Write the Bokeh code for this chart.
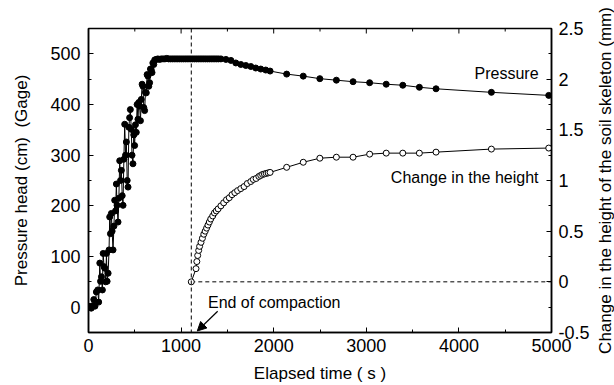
import math
from bokeh.plotting import figure
from bokeh.layouts import row
from bokeh.models import (Range1d, LinearAxis, FixedTicker, Span, Arrow, NormalHead,
                          Label, CustomJSTickFormatter)
from bokeh.embed import file_html
from bokeh.resources import INLINE

# ---------------- data ----------------
pressure_time = [
    0, 15, 30, 45, 57, 70, 85, 100, 110, 122,
    130, 140, 150, 158, 168, 175, 185, 194, 201, 212,
    222, 229, 237, 247, 255, 265, 275, 283, 292, 301,
    308, 319, 328, 337, 346, 355, 364, 373, 382, 391,
    400, 409, 418, 427, 436, 444, 452, 462, 470, 480,
    489, 498, 507, 516, 525, 534, 543, 552, 561, 570,
    579, 588, 597, 606, 615, 624, 633, 642, 651, 660,
    669, 677, 686, 695, 705, 715, 731, 749, 767,
    785, 805, 825, 845, 865, 885, 905, 925, 945, 965,
    985, 1005, 1025, 1045, 1065, 1085, 1105, 1125, 1145, 1165,
    1185, 1205, 1225, 1245, 1265, 1285, 1305, 1325, 1345, 1365,
    1385, 1405,
    1430, 1484, 1538, 1591, 1645, 1699, 1753, 1806, 1860, 1914,
    1961, 2140, 2319, 2498, 2677, 2857, 3036, 3215, 3394, 3573,
    3753, 4351, 4970,
]
pressure_head = [
    2, 0, -2, 3, 15, 2, 30, 34, 10, 87,
    51, 60, 34, 106, 80, 77, 50, 106, 51, 67,
    113, 178, 145, 185, 150, 113, 160, 211, 190, 243,
    201, 168, 215, 289, 250, 270, 220, 201, 292, 361,
    300, 326, 250, 237, 355, 374, 390, 351, 300, 283,
    340, 319, 360, 345, 400, 371, 404, 397, 368, 410,
    440, 436, 394, 388, 424, 423, 459, 456, 436, 443,
    470, 469, 463, 482, 479, 488, 489, 490, 489,
    490, 490, 490, 491, 490, 490, 490, 490, 490, 490,
    490, 490, 490, 490, 490, 490, 490, 490, 490, 490,
    490, 490, 490, 490, 490, 490, 490, 490, 490, 490,
    490, 490,
    490, 489, 487, 482, 479, 477, 475, 472, 470, 468,
    466, 460, 456, 451, 448, 445, 443, 440, 438, 434,
    431, 424, 418,
]

height_time = [
    1110, 1161, 1170, 1179, 1190, 1200, 1215, 1230, 1245, 1260,
    1275, 1290, 1305, 1320, 1341, 1360, 1380, 1400, 1430, 1460,
    1490, 1520, 1550, 1580, 1610, 1645, 1680, 1715, 1753, 1780,
    1810, 1840, 1860, 1880, 1900, 1920, 1940, 1961, 2140, 2319,
    2498, 2677, 2857, 3036, 3215, 3394, 3573, 3753, 4351, 4970,
]
height_change = [
    0.0, 0.13, 0.20, 0.26, 0.31, 0.35, 0.39, 0.43, 0.47, 0.50,
    0.53, 0.56, 0.59, 0.62, 0.65, 0.68, 0.70, 0.72, 0.75, 0.78,
    0.81, 0.83, 0.86, 0.88, 0.90, 0.92, 0.94, 0.97, 0.99, 1.01,
    1.02, 1.04, 1.05, 1.06, 1.065, 1.07, 1.075, 1.08, 1.13, 1.18,
    1.22, 1.23, 1.23, 1.26, 1.27, 1.27, 1.27, 1.28, 1.31, 1.32,
]

x_ticks = [0, 1000, 2000, 3000, 4000, 5000]
x_minor = [500, 1500, 2500, 3500, 4500]
left_ticks = [0, 100, 200, 300, 400, 500]
left_minor = [50, 150, 250, 350, 450]
right_ticks = [-0.5, 0, 0.5, 1, 1.5, 2, 2.5]
right_minor = [-0.25, 0.25, 0.75, 1.25, 1.75, 2.25]
right_title = "Change in the height of the soil skeleton (mm)"
end_of_compaction = 1110
x_end = 5000
y_top = 550

FONT = "Liberation Sans"

p = figure(width=592, height=385, x_range=Range1d(0, x_end), y_range=Range1d(-50, y_top),
           output_backend="svg", toolbar_location=None,
           min_border_left=88, min_border_right=40, min_border_top=28, min_border_bottom=52)
p.extra_y_ranges = {"h": Range1d(-0.5, 2.5)}
p.xgrid.visible = False
p.ygrid.visible = False
p.outline_line_color = "black"
p.outline_line_width = 1.5
p.background_fill_color = "white"
p.border_fill_color = "white"


def style(ax):
    ax.axis_line_color = "black"
    ax.axis_line_width = 1.5
    ax.major_tick_in = 5
    ax.major_tick_out = 0
    ax.minor_tick_in = 3
    ax.minor_tick_out = 0
    ax.major_tick_line_color = "black"
    ax.minor_tick_line_color = "black"
    ax.major_label_text_font = FONT
    ax.major_label_text_font_size = "18px"
    ax.major_label_text_color = "black"
    ax.axis_label_text_font = FONT
    ax.axis_label_text_font_size = "17px"
    ax.axis_label_text_font_style = "normal"
    ax.axis_label_text_color = "black"


xa = p.xaxis[0]
xa.ticker = FixedTicker(ticks=x_ticks, minor_ticks=x_minor)
xa.axis_label = "Elapsed time ( s )"
style(xa)
xa.major_label_standoff = 6
xa.axis_label_standoff = 9

ya = p.yaxis[0]
ya.ticker = FixedTicker(ticks=left_ticks, minor_ticks=left_minor)
ya.axis_label = "Pressure head (cm)\u00a0 (Gage)"
style(ya)
ya.major_label_standoff = 8
ya.axis_label_standoff = 16

ra = LinearAxis(y_range_name="h", ticker=FixedTicker(ticks=right_ticks, minor_ticks=right_minor),
                formatter=CustomJSTickFormatter(code="return tick.toString()"))
style(ra)
ra.major_label_standoff = 7
p.add_layout(ra, "right")

# mirrored ticks along the top edge (markers clipped to the frame)
p.scatter(x_ticks, [y_top] * len(x_ticks), marker="dash", angle=math.pi / 2, size=10,
          line_color="black", line_width=1)
p.scatter(x_minor, [y_top] * len(x_minor), marker="dash", angle=math.pi / 2, size=6,
          line_color="black", line_width=1)

# dashed reference lines
p.add_layout(Span(location=end_of_compaction, dimension="height", line_color="black",
                  line_width=1, line_dash="4 3"))
p.segment(x0=[end_of_compaction], y0=[0], x1=[x_end], y1=[0], y_range_name="h",
          line_color="black", line_width=1, line_dash="4 3")

# pressure series
p.line(pressure_time, pressure_head, line_color="black", line_width=1)
p.scatter(pressure_time, pressure_head, marker="circle", size=6,
          fill_color="black", line_color="black")

# height series
p.line(height_time, height_change, y_range_name="h", line_color="black", line_width=1)
p.scatter(height_time, height_change, y_range_name="h", marker="circle", size=6,
          fill_color="white", line_color="black", line_width=1)

# annotations
p.add_layout(Label(x=4860, y=462, text="Pressure", text_align="right", text_baseline="middle",
                   text_font=FONT, text_font_size="16px", text_color="black"))
p.add_layout(Label(x=4860, y=256, text="Change in the height", text_align="right",
                   text_baseline="middle", text_font=FONT, text_font_size="16px",
                   text_color="black"))
p.add_layout(Label(x=1290, y=9, text="End of compaction", text_align="left",
                   text_baseline="middle", text_font=FONT, text_font_size="16px",
                   text_color="black"))
p.add_layout(Arrow(end=NormalHead(size=9, fill_color="black", line_color="black"),
                   x_start=1395, y_start=-8, x_end=1175, y_end=-47,
                   line_color="black", line_width=1.2))

# narrow strip whose left-hand axis carries the right-hand title (reads bottom to top)
t = figure(width=22, height=385, x_range=Range1d(0, 1), y_range=Range1d(0, 1),
           output_backend="svg", toolbar_location=None,
           x_axis_location=None, y_axis_location="left",
           min_border_left=0, min_border_right=0)
t.xgrid.visible = False
t.ygrid.visible = False
t.outline_line_color = None
t.background_fill_color = "white"
t.border_fill_color = "white"
ta = t.yaxis[0]
ta.ticker = FixedTicker(ticks=[], minor_ticks=[])
ta.axis_line_color = None
ta.major_tick_line_color = None
ta.minor_tick_line_color = None
ta.major_tick_out = 0
ta.major_label_standoff = 0
ta.axis_label = right_title
ta.axis_label_standoff = 0
ta.axis_label_text_font = FONT
ta.axis_label_text_font_size = "17px"
ta.axis_label_text_font_style = "normal"
ta.axis_label_text_color = "black"

layout = row(p, t, spacing=0)
open("out.html", "w").write(file_html(layout, INLINE))
